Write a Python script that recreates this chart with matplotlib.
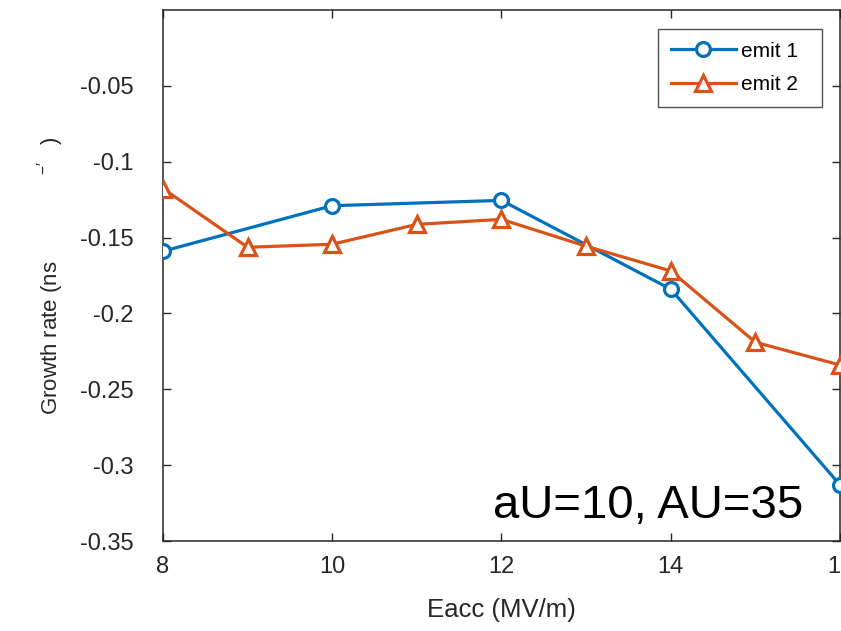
import numpy as np
import matplotlib.pyplot as plt

# Growth rate vs accelerating gradient for two emitter settings
eacc_1 = [8, 10, 12, 14, 16]
rate_1 = [-0.159, -0.129, -0.1255, -0.184, -0.313]

eacc_2 = [8, 9, 10, 11, 12, 13, 14, 15, 16]
rate_2 = [-0.1177, -0.1564, -0.1544, -0.1413, -0.138, -0.1557, -0.172, -0.219, -0.234]

x_ticks = [8, 10, 12, 14, 16]
y_ticks = [-0.35, -0.3, -0.25, -0.2, -0.15, -0.1, -0.05]

blue = '#0072BD'
orange = '#D95319'
axcol = '#262626'

plt.rcParams['font.family'] = ['Liberation Sans', 'DejaVu Sans']
plt.rcParams['mathtext.fontset'] = 'custom'
plt.rcParams['mathtext.rm'] = 'Liberation Sans'

fig = plt.figure(figsize=(8.41, 6.31), dpi=100)
ax = fig.add_axes([0.1938, 0.1426, 0.8050, 0.8416])

ax.plot(eacc_1, rate_1, '-o', color=blue, lw=2.3, ms=10, mew=2.3,
        mfc='white', label='emit 1  ', zorder=3)
ax.plot(eacc_2, rate_2, '-^', color=orange, lw=2.3, ms=11, mew=2.3,
        mfc='white', label='emit 2  ', zorder=3)

ax.set_xlim(8, 16)
ax.set_ylim(-0.35, 0)
ax.set_xticks(x_ticks)
ax.set_yticks(y_ticks)
ax.set_xticklabels([str(t) for t in x_ticks])
ax.set_yticklabels(['%g' % t for t in y_ticks])

for s in ax.spines.values():
    s.set_color(axcol)
    s.set_linewidth(1.1)
ax.tick_params(direction='in', length=6, width=1, colors=axcol,
               labelsize=17, top=True, right=True)
ax.tick_params(axis='y', pad=21)
ax.tick_params(axis='x', pad=11)

ax.set_xlabel('Eacc (MV/m)', fontsize=18.5, color=axcol, labelpad=14)
ax.set_ylabel(r'Growth rate (ns$\quad\quad\quad\quad^{-\prime}\;\;\;$)',
              fontsize=16, color=axcol, labelpad=10)

ax.text(0.4875, 0.043, 'aU=10, AU=35', transform=ax.transAxes,
        fontsize=34, color='black', ha='left', va='baseline')

leg = ax.legend(loc='upper right', bbox_to_anchor=(0.973, 0.964),
                fontsize=15, frameon=True, fancybox=False,
                handlelength=3.1, borderpad=0.6, labelspacing=0.7,
                handletextpad=0.25, borderaxespad=0)
leg.get_frame().set_edgecolor(axcol)
leg.get_frame().set_linewidth(1)

fig.savefig('out.png', dpi=100)
